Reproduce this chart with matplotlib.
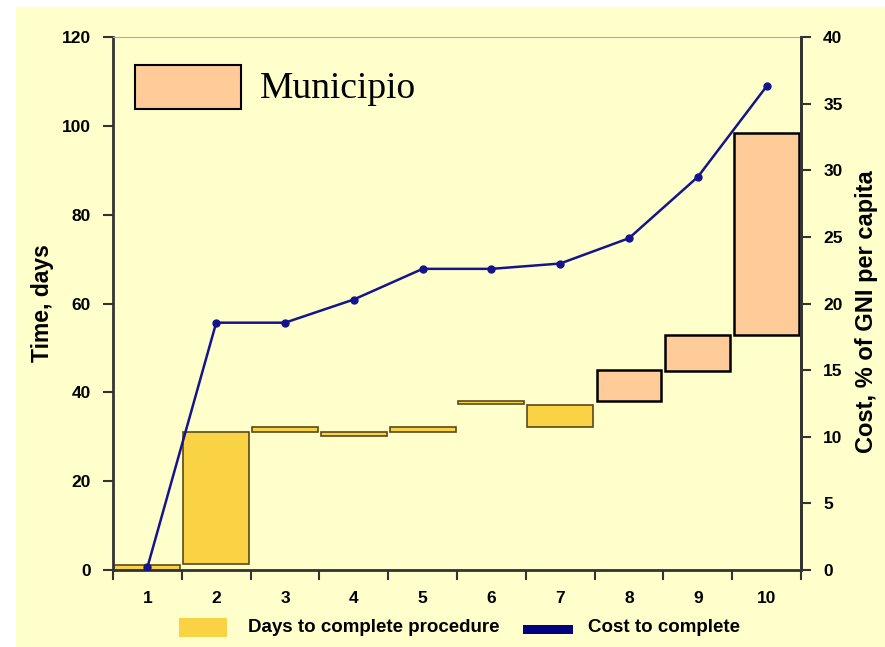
import matplotlib.pyplot as plt
import matplotlib.patches as mpatches
import numpy as np

# procedure number, cumulative days at start/end of each step, cumulative cost
procedures = [1, 2, 3, 4, 5, 6, 7, 8, 9, 10]
day_start = [0.0, 1.3, 31.1, 30.1, 31.1, 37.3, 32.2, 38.1, 44.9, 52.8]
day_end = [1.1, 31.0, 32.1, 31.0, 32.1, 38.1, 37.1, 45.0, 52.8, 98.3]
cost = [0.2, 18.56, 18.56, 20.3, 22.6, 22.6, 23.0, 24.9, 29.5, 36.3]
municipio = [False, False, False, False, False, False, False, True, True, True]

CREAM = '#FFFFCC'
YELLOW = '#F9D343'
SALMON = '#FFCC99'
NAVY = '#14148C'
FONT = 'Liberation Sans'

fig = plt.figure(figsize=(8.85, 6.47), dpi=100)
fig.patch.set_facecolor('white')
fig.add_artist(mpatches.Rectangle((16 / 885, 0), 1, 1 - 7 / 647,
                                  transform=fig.transFigure, color=CREAM, zorder=-10))

ax = fig.add_axes([113 / 885, 1 - 570 / 647, (801 - 113) / 885, (570 - 37) / 647])
ax.set_facecolor(CREAM)

x = np.array(procedures)
heights = np.array(day_end) - np.array(day_start)
for xi, b, h, m in zip(x, day_start, heights, municipio):
    if m:
        ax.bar(xi, h, bottom=b, width=0.94, color=SALMON, edgecolor='black', linewidth=1.8, zorder=2)
    else:
        ax.bar(xi, h, bottom=b, width=0.96, color=YELLOW, edgecolor='#5a4a1a', linewidth=1.2, zorder=2)

ax.set_xlim(0.5, 10.5)
ax.set_ylim(0, 120)
ax.set_yticks(range(0, 121, 20))
ax.set_xticks(np.arange(0.5, 11, 1))
ax.set_xticklabels([])
ax.set_xticks(x, minor=True)
ax.set_xticklabels([str(p) for p in procedures], minor=True)
ax.tick_params(axis='x', which='minor', length=0, pad=15)
ax.tick_params(axis='x', which='major', length=7, width=1.5, color='#333333')
ax.tick_params(axis='y', length=7, width=1.5, color='#333333', pad=9)
for lbl in ax.get_xticklabels(minor=True) + ax.get_yticklabels():
    lbl.set_fontweight('bold')
    lbl.set_fontsize(12.5)
    lbl.set_fontfamily(FONT)
ax.set_ylabel('Time, days', fontsize=16.5, fontweight='bold', family=FONT)
ax.yaxis.set_label_coords(-0.086, 0.5)

ax.spines['top'].set_linestyle((0, (1, 1)))
ax.spines['top'].set_color('#aaaaaa')
ax.spines['top'].set_linewidth(0.8)
for s in ['left', 'bottom', 'right']:
    ax.spines[s].set_linewidth(2)
    ax.spines[s].set_color('#333333')

ax2 = ax.twinx()
ax2.plot(x, cost, color=NAVY, linewidth=1.8, marker='o', markersize=5, zorder=3)
ax2.set_ylim(0, 40)
ax2.set_yticks(range(0, 41, 5))
ax2.tick_params(axis='y', length=7, width=1.5, color='#333333', pad=9)
for lbl in ax2.get_yticklabels():
    lbl.set_fontweight('bold')
    lbl.set_fontsize(12.5)
    lbl.set_fontfamily(FONT)
ax2.set_ylabel('Cost, % of GNI per capita', fontsize=17, fontweight='bold', family=FONT)
ax2.yaxis.set_label_coords(1.0785, 0.485)
for s in ['left', 'bottom', 'top']:
    ax2.spines[s].set_visible(False)
ax2.spines['right'].set_linewidth(2)
ax2.spines['right'].set_color('#333333')

# "Municipio" key
fig.add_artist(mpatches.Rectangle((135 / 885, 1 - 109 / 647), 106 / 885, 44 / 647,
                                  transform=fig.transFigure, facecolor=SALMON,
                                  edgecolor='black', linewidth=1.5))
fig.text(260 / 885, 1 - 89 / 647, 'Municipio', fontsize=27, family='Liberation Serif', va='center')

# bottom legend
fig.add_artist(mpatches.Rectangle((179 / 885, 1 - 637 / 647), 48 / 885, 19 / 647,
                                  transform=fig.transFigure, facecolor=YELLOW, edgecolor='none'))
fig.text(248 / 885, 1 - 627 / 647, 'Days to complete procedure', fontsize=13.5,
         fontweight='bold', family=FONT, va='center')
fig.add_artist(mpatches.Rectangle((523 / 885, 1 - 634 / 647), 50 / 885, 9 / 647,
                                  transform=fig.transFigure, facecolor='#000080', edgecolor='none'))
fig.text(588 / 885, 1 - 627 / 647, 'Cost to complete', fontsize=13.5,
         fontweight='bold', family=FONT, va='center')

plt.savefig('out.png', dpi=100)
